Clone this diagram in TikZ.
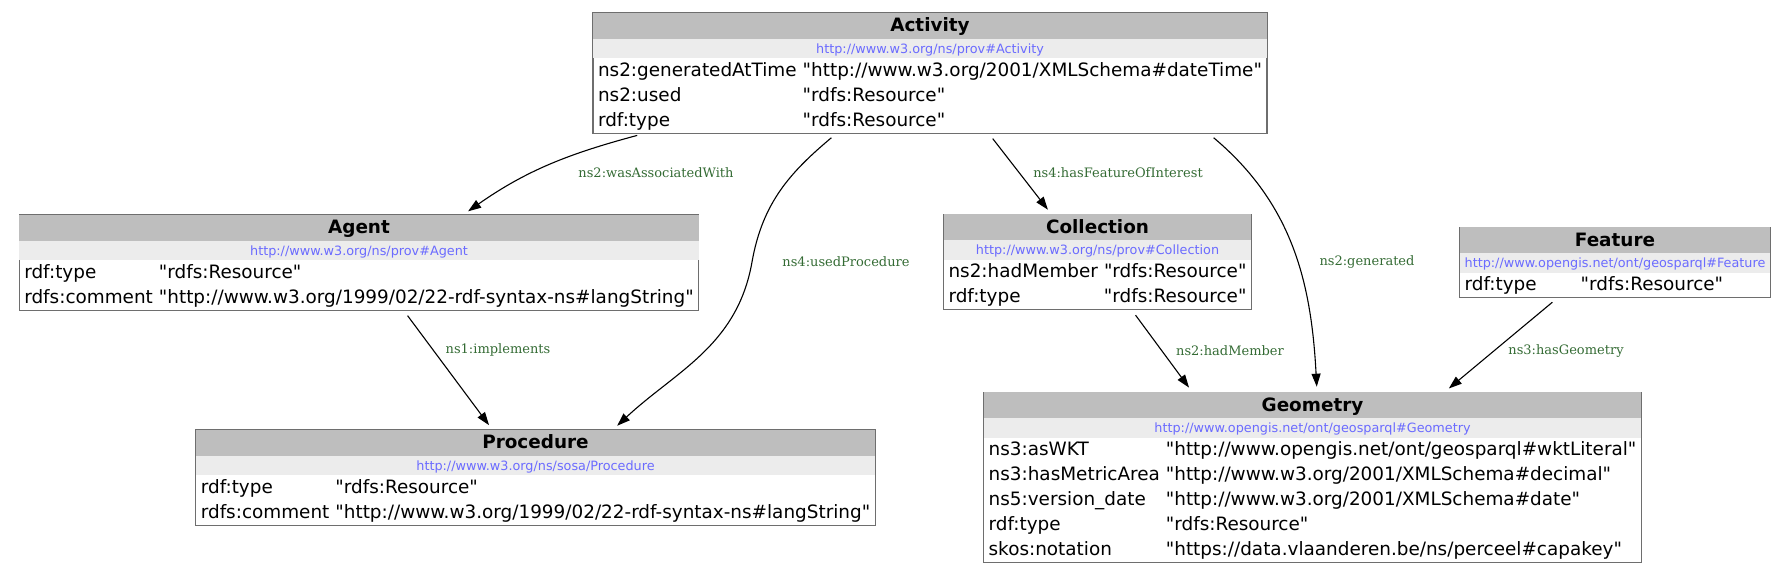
\documentclass[tikz,border=0pt]{standalone}
\usepackage{colortbl}
\usepackage{fontspec}
\setmainfont{DejaVu Sans}
\newfontfamily\lblfont{DejaVu Serif}
\usetikzlibrary{arrows.meta}
\definecolor{headgray}{HTML}{BEBEBE}
\definecolor{urlgray}{HTML}{ECECEC}
\definecolor{urlblue}{HTML}{6B6BFF}
\definecolor{lblgreen}{HTML}{346B34}
\definecolor{boxgray}{HTML}{6E6E6E}
\setlength{\tabcolsep}{5pt}
\renewcommand{\arraystretch}{0.5}
% row struts, quoted values
\newcommand{\rs}{\rule[-7pt]{0pt}{25pt}}
\newcommand{\qt}[1]{\textquotedbl#1\textquotedbl}
\newcommand{\boxhead}[2]{%
  \rowcolor{headgray}\multicolumn{2}{c}{\rule[-7pt]{0pt}{26pt}\bfseries #1}\\
  \rowcolor{urlgray}\multicolumn{2}{c}{\rule[-5pt]{0pt}{19.5pt}\fontsize{12.8}{15}\selectfont\color{urlblue}#2}\\}
\newenvironment{props}{\begin{tabular}{l<{\hspace{-4pt}}l}}{\end{tabular}}

\begin{document}
\begin{tikzpicture}[x=1pt,y=1pt,
  cls/.style={draw=boxgray,line width=1.2pt,inner sep=0pt,font=\fontsize{18.4}{21}\selectfont},
  rel/.style={-{Triangle[length=13pt,width=9pt]},line width=1.1pt,shorten <=6pt,shorten >=5pt},
  lbl/.style={font=\lblfont\fontsize{13}{15}\selectfont,text=lblgreen,inner sep=1pt}]
\useasboundingbox (0,0) rectangle (1787,-576);

% Classes
\node[cls] (act) at (930,-73) {\begin{props}
  \boxhead{Activity}{http://www.w3.org/ns/prov\#Activity}
  \rs ns2:generatedAtTime & \qt{http://www.w3.org/2001/XMLSchema\#dateTime}\\
  \rs ns2:used & \qt{rdfs:Resource}\\
  \rs rdf:type & \qt{rdfs:Resource}
\end{props}};
\node[cls] (agent) at (359,-262.5) {\begin{props}
  \boxhead{Agent}{http://www.w3.org/ns/prov\#Agent}
  \rs rdf:type & \qt{rdfs:Resource}\\
  \rs rdfs:comment & \qt{http://www.w3.org/1999/02/22-rdf-syntax-ns\#langString}
\end{props}};
\node[cls] (proc) at (535.5,-477.5) {\begin{props}
  \boxhead{Procedure}{http://www.w3.org/ns/sosa/Procedure}
  \rs rdf:type & \qt{rdfs:Resource}\\
  \rs rdfs:comment & \qt{http://www.w3.org/1999/02/22-rdf-syntax-ns\#langString}
\end{props}};
\node[cls] (coll) at (1097.5,-262) {\begin{props}
  \boxhead{Collection}{http://www.w3.org/ns/prov\#Collection}
  \rs ns2:hadMember & \qt{rdfs:Resource}\\
  \rs rdf:type & \qt{rdfs:Resource}
\end{props}};
\node[cls] (feat) at (1615,-262.5) {\begin{props}
  \boxhead{Feature}{http://www.opengis.net/ont/geosparql\#Feature}
  \rs\makebox[110pt][l]{rdf:type} & \qt{rdfs:Resource}
\end{props}};
\node[cls] (geom) at (1312.5,-477.5) {\begin{props}
  \boxhead{Geometry}{http://www.opengis.net/ont/geosparql\#Geometry}
  \rs ns3:asWKT & \qt{http://www.opengis.net/ont/geosparql\#wktLiteral}\\
  \rs ns3:hasMetricArea & \qt{http://www.w3.org/2001/XMLSchema\#decimal}\\
  \rs ns5:version\_date & \qt{http://www.w3.org/2001/XMLSchema\#date}\\
  \rs rdf:type & \qt{rdfs:Resource}\\
  \rs skos:notation & \qt{https://data.vlaanderen.be/ns/perceel\#capakey}
\end{props}};

% Relations
\coordinate (bendP) at (752,-262);
\draw[rel] ([xshift=-287pt]act.south) to[out=195,in=35] ([xshift=105pt]agent.north);
\draw[rel] ([xshift=-94pt]act.south) to[out=220,in=80] (bendP) to[out=260,in=43] ([xshift=78pt]proc.north);
\draw[rel] ([xshift=59pt]act.south) -- ([xshift=-46.5pt]coll.north);
\draw[rel] ([xshift=279pt]act.south) to[out=-40,in=93] ([xshift=4.5pt]geom.north);
\draw[rel] ([xshift=45pt]agent.south) -- ([xshift=-43.5pt]proc.north);
\draw[rel] ([xshift=34.5pt]coll.south) -- ([xshift=-120.5pt]geom.north);
\draw[rel] ([xshift=-58pt]feat.south) -- ([xshift=132.5pt]geom.north);

% Relation labels
\node[lbl] (lAssoc) at (656,-173) {ns2:wasAssociatedWith};
\node[lbl] (lUsedProc) at (846,-262) {ns4:usedProcedure};
\node[lbl] (lFoi) at (1118,-173) {ns4:hasFeatureOfInterest};
\node[lbl] (lGen) at (1367,-262) {ns2:generated};
\node[lbl] (lImpl) at (498,-350) {ns1:implements};
\node[lbl] (lMember) at (1230,-351) {ns2:hadMember};
\node[lbl] (lGeom) at (1566,-351) {ns3:hasGeometry};
\end{tikzpicture}
\end{document}
